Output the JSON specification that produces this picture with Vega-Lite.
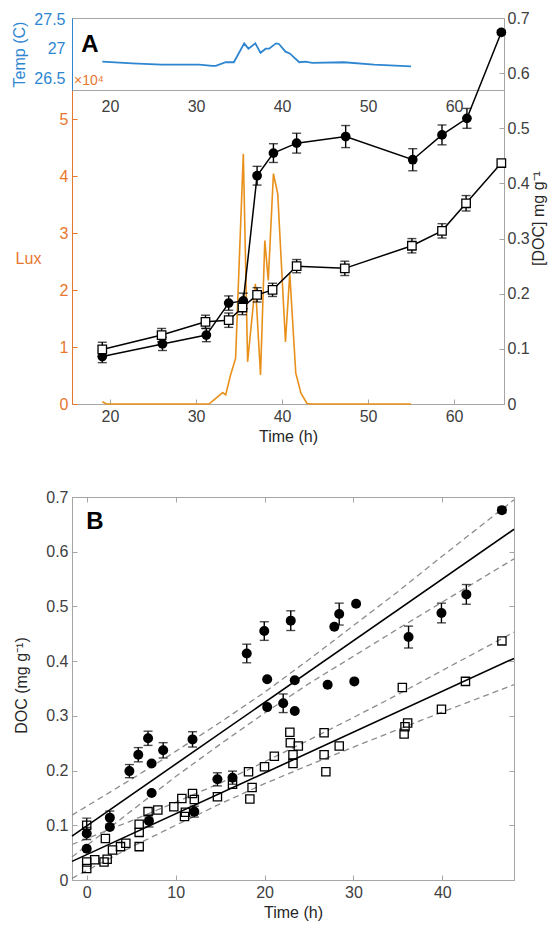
{
 "$schema": "https://vega.github.io/schema/vega-lite/v6.json",
 "padding": {"left": 3, "top": 9, "right": 2, "bottom": 4},
 "spacing": 43,
 "columns": 1,
 "align": "none",
 "config": {
  "view": {"stroke": "#a6a6a6", "strokeWidth": 1},
  "font": "Liberation Sans",
  "axis": {"labelFont": "Liberation Sans", "titleFont": "Liberation Sans", "labelFontSize": 16, "titleFontSize": 16, "titleFontWeight": "normal", "labelColor": "#404040", "titleColor": "#262626", "domainColor": "#a6a6a6", "tickColor": "#a6a6a6", "grid": false, "tickSize": -5, "labelPadding": 9, "titlePadding": 4}
 },
 "datasets": {
  "temp": [
   {"t": 19.1, "T": 26.78}, {"t": 22.6, "T": 26.75}, {"t": 26.0, "T": 26.73}, {"t": 30.35, "T": 26.73}, {"t": 31.9, "T": 26.71}, {"t": 32.3, "T": 26.71}, {"t": 33.45, "T": 26.77}, {"t": 34.4, "T": 26.77}, {"t": 35.6, "T": 27.09}, {"t": 36.1, "T": 27.0}, {"t": 36.9, "T": 27.09}, {"t": 37.5, "T": 26.93}, {"t": 38.1, "T": 27.0}, {"t": 38.5, "T": 27.0}, {"t": 39.3, "T": 27.09}, {"t": 39.65, "T": 27.08}, {"t": 40.4, "T": 26.95}, {"t": 40.9, "T": 26.92}, {"t": 42.0, "T": 26.77}, {"t": 42.75, "T": 26.78}, {"t": 43.5, "T": 26.76}, {"t": 47.2, "T": 26.77}, {"t": 50.7, "T": 26.73}, {"t": 55.0, "T": 26.7}
  ],
  "lux": [
   {"t": 19.1, "L": 0.04}, {"t": 19.6, "L": 0.0}, {"t": 31.5, "L": 0.0}, {"t": 32.3, "L": 0.1}, {"t": 33.1, "L": 0.2}, {"t": 33.45, "L": 0.16}, {"t": 34.0, "L": 0.5}, {"t": 34.6, "L": 0.8}, {"t": 35.5, "L": 4.39}, {"t": 36.0, "L": 0.74}, {"t": 36.9, "L": 2.11}, {"t": 37.5, "L": 0.51}, {"t": 38.0, "L": 2.87}, {"t": 38.4, "L": 2.17}, {"t": 39.0, "L": 4.04}, {"t": 39.5, "L": 3.69}, {"t": 40.4, "L": 1.09}, {"t": 40.9, "L": 2.29}, {"t": 41.6, "L": 0.54}, {"t": 42.2, "L": 0.19}, {"t": 42.9, "L": 0.01}, {"t": 43.5, "L": 0.0}, {"t": 55.0, "L": 0.0}
  ],
  "docA": [
   {"t": 19.1, "v": 0.086, "e": 0.011, "k": "c"}, {"t": 26.1, "v": 0.109, "e": 0.012, "k": "c"}, {"t": 31.2, "v": 0.125, "e": 0.012, "k": "c"}, {"t": 33.8, "v": 0.183, "e": 0.013, "k": "c"}, {"t": 35.5, "v": 0.187, "e": 0.014, "k": "c"}, {"t": 37.1, "v": 0.414, "e": 0.017, "k": "c"}, {"t": 39.0, "v": 0.455, "e": 0.017, "k": "c"}, {"t": 41.7, "v": 0.473, "e": 0.018, "k": "c"}, {"t": 47.4, "v": 0.485, "e": 0.02, "k": "c"}, {"t": 55.2, "v": 0.443, "e": 0.02, "k": "c"}, {"t": 58.6, "v": 0.488, "e": 0.018, "k": "c"}, {"t": 61.5, "v": 0.518, "e": 0.018, "k": "c"}, {"t": 65.5, "v": 0.674, "e": 0.004, "k": "c"},
   {"t": 19.1, "v": 0.099, "e": 0.013, "k": "s"}, {"t": 26.0, "v": 0.125, "e": 0.012, "k": "s"}, {"t": 31.1, "v": 0.149, "e": 0.012, "k": "s"}, {"t": 33.8, "v": 0.152, "e": 0.013, "k": "s"}, {"t": 35.4, "v": 0.175, "e": 0.013, "k": "s"}, {"t": 37.1, "v": 0.198, "e": 0.013, "k": "s"}, {"t": 38.9, "v": 0.207, "e": 0.012, "k": "s"}, {"t": 41.7, "v": 0.25, "e": 0.012, "k": "s"}, {"t": 47.3, "v": 0.246, "e": 0.013, "k": "s"}, {"t": 55.1, "v": 0.287, "e": 0.013, "k": "s"}, {"t": 58.6, "v": 0.314, "e": 0.013, "k": "s"}, {"t": 61.4, "v": 0.364, "e": 0.014, "k": "s"}, {"t": 65.5, "v": 0.437, "e": 0.0, "k": "s"}
  ],
  "docB": [
   {"t": 0, "v": 0.085, "e": 0.011, "k": "c"}, {"t": 0, "v": 0.057, "e": 0, "k": "c"}, {"t": 2.6, "v": 0.114, "e": 0.012, "k": "c"}, {"t": 2.6, "v": 0.097, "e": 0, "k": "c"}, {"t": 4.8, "v": 0.199, "e": 0.012, "k": "c"}, {"t": 5.8, "v": 0.229, "e": 0.013, "k": "c"}, {"t": 6.9, "v": 0.259, "e": 0.013, "k": "c"}, {"t": 7.3, "v": 0.213, "e": 0, "k": "c"}, {"t": 8.6, "v": 0.237, "e": 0.014, "k": "c"}, {"t": 7.3, "v": 0.159, "e": 0, "k": "c"}, {"t": 7.0, "v": 0.108, "e": 0.011, "k": "c"}, {"t": 11.9, "v": 0.257, "e": 0.014, "k": "c"}, {"t": 12.1, "v": 0.125, "e": 0.01, "k": "c"}, {"t": 14.7, "v": 0.184, "e": 0.012, "k": "c"}, {"t": 16.4, "v": 0.187, "e": 0.012, "k": "c"}, {"t": 18.0, "v": 0.414, "e": 0.017, "k": "c"}, {"t": 19.97, "v": 0.455, "e": 0.017, "k": "c"}, {"t": 20.3, "v": 0.367, "e": 0, "k": "c"}, {"t": 20.3, "v": 0.316, "e": 0, "k": "c"}, {"t": 22.1, "v": 0.323, "e": 0.017, "k": "c"}, {"t": 22.95, "v": 0.474, "e": 0.018, "k": "c"}, {"t": 23.4, "v": 0.365, "e": 0, "k": "c"}, {"t": 23.4, "v": 0.309, "e": 0, "k": "c"}, {"t": 27.1, "v": 0.357, "e": 0, "k": "c"}, {"t": 27.85, "v": 0.463, "e": 0, "k": "c"}, {"t": 28.4, "v": 0.486, "e": 0.02, "k": "c"}, {"t": 30.3, "v": 0.505, "e": 0, "k": "c"}, {"t": 30.1, "v": 0.363, "e": 0, "k": "c"}, {"t": 36.2, "v": 0.444, "e": 0.02, "k": "c"}, {"t": 39.9, "v": 0.488, "e": 0.018, "k": "c"}, {"t": 42.7, "v": 0.522, "e": 0.018, "k": "c"}, {"t": 46.7, "v": 0.676, "e": 0.005, "k": "c"},
   {"t": 0, "v": 0.1, "e": 0.013, "k": "s"}, {"t": 0, "v": 0.033, "e": 0, "k": "s"}, {"t": 0, "v": 0.021, "e": 0, "k": "s"}, {"t": 0.9, "v": 0.037, "e": 0, "k": "s"}, {"t": 1.95, "v": 0.033, "e": 0, "k": "s"}, {"t": 2.3, "v": 0.038, "e": 0, "k": "s"}, {"t": 2.1, "v": 0.076, "e": 0, "k": "s"}, {"t": 2.9, "v": 0.055, "e": 0, "k": "s"}, {"t": 3.8, "v": 0.061, "e": 0, "k": "s"}, {"t": 4.4, "v": 0.067, "e": 0, "k": "s"}, {"t": 5.9, "v": 0.061, "e": 0, "k": "s"}, {"t": 5.9, "v": 0.087, "e": 0, "k": "s"}, {"t": 5.9, "v": 0.102, "e": 0, "k": "s"}, {"t": 6.9, "v": 0.125, "e": 0, "k": "s"}, {"t": 8.0, "v": 0.128, "e": 0, "k": "s"}, {"t": 9.8, "v": 0.134, "e": 0, "k": "s"}, {"t": 10.7, "v": 0.149, "e": 0, "k": "s"}, {"t": 11.0, "v": 0.116, "e": 0, "k": "s"}, {"t": 11.1, "v": 0.124, "e": 0, "k": "s"}, {"t": 11.9, "v": 0.158, "e": 0, "k": "s"}, {"t": 12.1, "v": 0.147, "e": 0, "k": "s"}, {"t": 14.7, "v": 0.152, "e": 0, "k": "s"}, {"t": 16.4, "v": 0.175, "e": 0, "k": "s"}, {"t": 18.2, "v": 0.198, "e": 0, "k": "s"}, {"t": 18.6, "v": 0.169, "e": 0, "k": "s"}, {"t": 18.35, "v": 0.148, "e": 0, "k": "s"}, {"t": 20.0, "v": 0.207, "e": 0, "k": "s"}, {"t": 21.1, "v": 0.226, "e": 0, "k": "s"}, {"t": 22.85, "v": 0.27, "e": 0, "k": "s"}, {"t": 22.9, "v": 0.251, "e": 0, "k": "s"}, {"t": 23.8, "v": 0.245, "e": 0, "k": "s"}, {"t": 23.2, "v": 0.229, "e": 0, "k": "s"}, {"t": 23.2, "v": 0.213, "e": 0, "k": "s"}, {"t": 26.7, "v": 0.269, "e": 0, "k": "s"}, {"t": 26.7, "v": 0.229, "e": 0, "k": "s"}, {"t": 26.9, "v": 0.198, "e": 0, "k": "s"}, {"t": 28.4, "v": 0.245, "e": 0, "k": "s"}, {"t": 35.5, "v": 0.352, "e": 0, "k": "s"}, {"t": 36.1, "v": 0.287, "e": 0, "k": "s"}, {"t": 35.8, "v": 0.28, "e": 0, "k": "s"}, {"t": 35.7, "v": 0.267, "e": 0, "k": "s"}, {"t": 39.9, "v": 0.312, "e": 0, "k": "s"}, {"t": 42.6, "v": 0.363, "e": 0, "k": "s"}, {"t": 46.7, "v": 0.437, "e": 0, "k": "s"}
  ],
  "fitB": [
   {"t": -1.655, "v": 0.0803, "k": "c"}, {"t": 48.06, "v": 0.641, "k": "c"},
   {"t": -1.655, "v": 0.034, "k": "s"}, {"t": 48.06, "v": 0.405, "k": "s"}
  ],
  "bandB": [
   {"t": -1.655, "v": 0.1185, "k": "cu"}, {"t": 5, "v": 0.184, "k": "cu"}, {"t": 10, "v": 0.235, "k": "cu"}, {"t": 15, "v": 0.288, "k": "cu"}, {"t": 20, "v": 0.343, "k": "cu"}, {"t": 25, "v": 0.403, "k": "cu"}, {"t": 30, "v": 0.465, "k": "cu"}, {"t": 35, "v": 0.527, "k": "cu"}, {"t": 40, "v": 0.592, "k": "cu"}, {"t": 48.06, "v": 0.695, "k": "cu"},
   {"t": -1.655, "v": 0.0421, "k": "cl"}, {"t": 5, "v": 0.126, "k": "cl"}, {"t": 10, "v": 0.189, "k": "cl"}, {"t": 15, "v": 0.248, "k": "cl"}, {"t": 20, "v": 0.305, "k": "cl"}, {"t": 25, "v": 0.359, "k": "cl"}, {"t": 30, "v": 0.409, "k": "cl"}, {"t": 35, "v": 0.459, "k": "cl"}, {"t": 40, "v": 0.508, "k": "cl"}, {"t": 48.06, "v": 0.587, "k": "cl"},
   {"t": -1.655, "v": 0.0649, "k": "su"}, {"t": 5, "v": 0.108, "k": "su"}, {"t": 10, "v": 0.142, "k": "su"}, {"t": 15, "v": 0.177, "k": "su"}, {"t": 20, "v": 0.216, "k": "su"}, {"t": 25, "v": 0.256, "k": "su"}, {"t": 30, "v": 0.297, "k": "su"}, {"t": 35, "v": 0.339, "k": "su"}, {"t": 40, "v": 0.383, "k": "su"}, {"t": 48.06, "v": 0.453, "k": "su"},
   {"t": -1.655, "v": 0.0031, "k": "sl"}, {"t": 5, "v": 0.06, "k": "sl"}, {"t": 10, "v": 0.1, "k": "sl"}, {"t": 15, "v": 0.139, "k": "sl"}, {"t": 20, "v": 0.176, "k": "sl"}, {"t": 25, "v": 0.21, "k": "sl"}, {"t": 30, "v": 0.243, "k": "sl"}, {"t": 35, "v": 0.275, "k": "sl"}, {"t": 40, "v": 0.307, "k": "sl"}, {"t": 48.06, "v": 0.357, "k": "sl"}
  ]
 },
 "concat": [
  {
   "width": 432,
   "height": 386,
   "resolve": {"scale": {"y": "independent"}, "axis": {"x": "independent", "y": "independent"}},
   "layer": [
    {
     "data": {"name": "lux"},
     "mark": {"type": "line", "color": "#E8901A", "strokeWidth": 1.6},
     "encoding": {
      "x": {"field": "t", "type": "quantitative", "scale": {"domain": [15.58, 65.81], "nice": false, "zero": false},
            "axis": {"orient": "bottom", "values": [20, 30, 40, 50, 60], "title": "Time (h)"}},
      "y": {"field": "L", "type": "quantitative", "scale": {"domain": [0, 5.51], "range": [386, 72], "nice": false, "zero": false},
            "axis": {"orient": "left", "values": [0, 1, 2, 3, 4, 5], "labelColor": "#E8772E", "domainColor": "#E8772E", "tickColor": "#E8772E", "title": "Lux", "titleColor": "#E8772E", "titleAngle": 0, "titleX": -44, "titleY": 240, "titleAlign": "center", "titleBaseline": "middle"}}
     }
    },
    {
     "data": {"name": "temp"},
     "mark": {"type": "line", "color": "#2E86D1", "strokeWidth": 1.8},
     "encoding": {
      "x": {"field": "t", "type": "quantitative", "scale": {"domain": [15.58, 65.81], "nice": false, "zero": false},
            "axis": {"orient": "bottom", "offset": -314, "values": [20, 30, 40, 50, 60], "ticks": false, "labelPadding": 8, "title": null}},
      "y": {"field": "T", "type": "quantitative", "scale": {"domain": [26.3, 27.52], "range": [72, 0], "nice": false, "zero": false},
            "axis": {"orient": "left", "values": [26.5, 27, 27.5], "format": "~g", "ticks": false, "labelPadding": 7, "labelColor": "#2E86D1", "domainColor": "#2E86D1", "title": "Temp (C)", "titleColor": "#2E86D1", "titleAngle": 270, "titleX": -53, "titleY": 36, "titleAlign": "center", "titleBaseline": "middle"}}
     }
    },
    {
     "data": {"values": [{"lab": "A"}]},
     "mark": {"type": "text", "text": "A", "fontSize": 24, "fontWeight": "bold", "font": "Liberation Sans", "align": "center", "baseline": "middle"},
     "encoding": {
      "x": {"datum": 17.67, "type": "quantitative", "scale": {"domain": [15.58, 65.81], "nice": false, "zero": false}, "axis": null},
      "y": {"datum": 27.063, "type": "quantitative", "scale": {"domain": [26.3, 27.52], "range": [72, 0], "nice": false, "zero": false}, "axis": null}
     }
    },
    {
     "data": {"values": [{"lab": "x"}]},
     "mark": {"type": "text", "text": "×10⁴", "fontSize": 14, "font": "Liberation Sans", "color": "#E8772E", "align": "left", "baseline": "middle"},
     "encoding": {
      "x": {"datum": 15.81, "type": "quantitative", "scale": {"domain": [15.58, 65.81], "nice": false, "zero": false}, "axis": null},
      "y": {"datum": 5.667, "type": "quantitative", "scale": {"domain": [0, 5.51], "range": [386, 72], "nice": false, "zero": false}, "axis": null}
     }
    },
    {
     "data": {"name": "docA"},
     "mark": {"type": "line", "color": "black", "strokeWidth": 1.5},
     "encoding": {
      "x": {"field": "t", "type": "quantitative", "scale": {"domain": [15.58, 65.81], "nice": false, "zero": false}, "axis": null},
      "y": {"field": "v", "type": "quantitative", "scale": {"domain": [0, 0.7], "nice": false, "zero": false},
            "axis": {"orient": "right", "values": [0, 0.1, 0.2, 0.3, 0.4, 0.5, 0.6, 0.7], "format": "~g", "labelPadding": 8, "title": "[DOC] mg g⁻¹", "titleAngle": 270, "titleX": 34, "titleY": 200, "titleAlign": "center", "titleBaseline": "middle"}},
      "detail": {"field": "k"}
     }
    },
    {
     "data": {"name": "docA"},
     "transform": [{"filter": "datum.e > 0"}],
     "mark": {"type": "errorbar", "ticks": true, "size": 9, "thickness": 1.4, "color": "black"},
     "encoding": {
      "x": {"field": "t", "type": "quantitative", "scale": {"domain": [15.58, 65.81], "nice": false, "zero": false}, "axis": null},
      "y": {"field": "v", "type": "quantitative", "scale": {"domain": [0, 0.7], "nice": false, "zero": false}, "axis": null},
      "yError": {"field": "e"}
     }
    },
    {
     "data": {"name": "docA"},
     "transform": [{"filter": "datum.k == 'c'"}],
     "mark": {"type": "point", "shape": "circle", "filled": true, "color": "black", "size": 95, "opacity": 1},
     "encoding": {
      "x": {"field": "t", "type": "quantitative", "scale": {"domain": [15.58, 65.81], "nice": false, "zero": false}, "axis": null},
      "y": {"field": "v", "type": "quantitative", "scale": {"domain": [0, 0.7], "nice": false, "zero": false}, "axis": null}
     }
    },
    {
     "data": {"name": "docA"},
     "transform": [{"filter": "datum.k == 's'"}],
     "mark": {"type": "point", "shape": "square", "filled": true, "fill": "white", "stroke": "black", "strokeWidth": 1.3, "size": 72, "opacity": 1},
     "encoding": {
      "x": {"field": "t", "type": "quantitative", "scale": {"domain": [15.58, 65.81], "nice": false, "zero": false}, "axis": null},
      "y": {"field": "v", "type": "quantitative", "scale": {"domain": [0, 0.7], "nice": false, "zero": false}, "axis": null}
     }
    }
   ]
  },
  {
   "width": 442,
   "height": 383,
   "resolve": {"axis": {"x": "independent", "y": "independent"}},
   "layer": [
    {
     "data": {"name": "bandB"},
     "mark": {"type": "line", "color": "#8c8c8c", "strokeDash": [6, 4], "strokeWidth": 1.3},
     "encoding": {
      "x": {"field": "t", "type": "quantitative", "scale": {"domain": [-1.655, 48.06], "nice": false, "zero": false},
            "axis": {"orient": "bottom", "values": [0, 10, 20, 30, 40], "title": "Time (h)"}},
      "y": {"field": "v", "type": "quantitative", "scale": {"domain": [0, 0.7], "nice": false, "zero": false},
            "axis": {"orient": "left", "values": [0, 0.1, 0.2, 0.3, 0.4, 0.5, 0.6, 0.7], "format": "~g", "title": "DOC (mg g⁻¹)", "titleAngle": 270, "titleX": -51, "titleY": 188, "titleAlign": "center", "titleBaseline": "middle"}},
      "detail": {"field": "k"}
     }
    },
    {
     "data": {"name": "fitB"},
     "mark": {"type": "line", "color": "black", "strokeWidth": 1.6},
     "encoding": {
      "x": {"field": "t", "type": "quantitative", "scale": {"domain": [-1.655, 48.06], "nice": false, "zero": false},
            "axis": {"orient": "top", "values": [0, 10, 20, 30, 40], "labels": false, "domain": false, "title": null}},
      "y": {"field": "v", "type": "quantitative", "scale": {"domain": [0, 0.7], "nice": false, "zero": false},
            "axis": {"orient": "right", "values": [0, 0.1, 0.2, 0.3, 0.4, 0.5, 0.6, 0.7], "labels": false, "domain": false, "title": null}},
      "detail": {"field": "k"}
     }
    },
    {
     "data": {"name": "docB"},
     "transform": [{"filter": "datum.e > 0"}],
     "mark": {"type": "errorbar", "ticks": true, "size": 9, "thickness": 1.4, "color": "black"},
     "encoding": {
      "x": {"field": "t", "type": "quantitative", "scale": {"domain": [-1.655, 48.06], "nice": false, "zero": false}, "axis": null},
      "y": {"field": "v", "type": "quantitative", "scale": {"domain": [0, 0.7], "nice": false, "zero": false}, "axis": null},
      "yError": {"field": "e"}
     }
    },
    {
     "data": {"name": "docB"},
     "transform": [{"filter": "datum.k == 's'"}],
     "mark": {"type": "point", "shape": "square", "filled": false, "stroke": "black", "strokeWidth": 1.3, "size": 68, "opacity": 1},
     "encoding": {
      "x": {"field": "t", "type": "quantitative", "scale": {"domain": [-1.655, 48.06], "nice": false, "zero": false}, "axis": null},
      "y": {"field": "v", "type": "quantitative", "scale": {"domain": [0, 0.7], "nice": false, "zero": false}, "axis": null}
     }
    },
    {
     "data": {"name": "docB"},
     "transform": [{"filter": "datum.k == 'c'"}],
     "mark": {"type": "point", "shape": "circle", "filled": true, "color": "black", "size": 100, "opacity": 1},
     "encoding": {
      "x": {"field": "t", "type": "quantitative", "scale": {"domain": [-1.655, 48.06], "nice": false, "zero": false}, "axis": null},
      "y": {"field": "v", "type": "quantitative", "scale": {"domain": [0, 0.7], "nice": false, "zero": false}, "axis": null}
     }
    },
    {
     "data": {"values": [{"lab": "B"}]},
     "mark": {"type": "text", "text": "B", "fontSize": 24, "fontWeight": "bold", "font": "Liberation Sans", "align": "center", "baseline": "middle"},
     "encoding": {
      "x": {"datum": 0.93, "type": "quantitative", "scale": {"domain": [-1.655, 48.06], "nice": false, "zero": false}, "axis": null},
      "y": {"datum": 0.654, "type": "quantitative", "scale": {"domain": [0, 0.7], "nice": false, "zero": false},
            "axis": {"orient": "left", "labels": false, "ticks": false, "domain": false, "title": "DOC", "titleOpacity": 0, "titleAngle": 270, "titleX": -60, "titleY": 188, "titleAlign": "center", "titleBaseline": "middle"}}
     }
    }
   ]
  }
 ]
}
